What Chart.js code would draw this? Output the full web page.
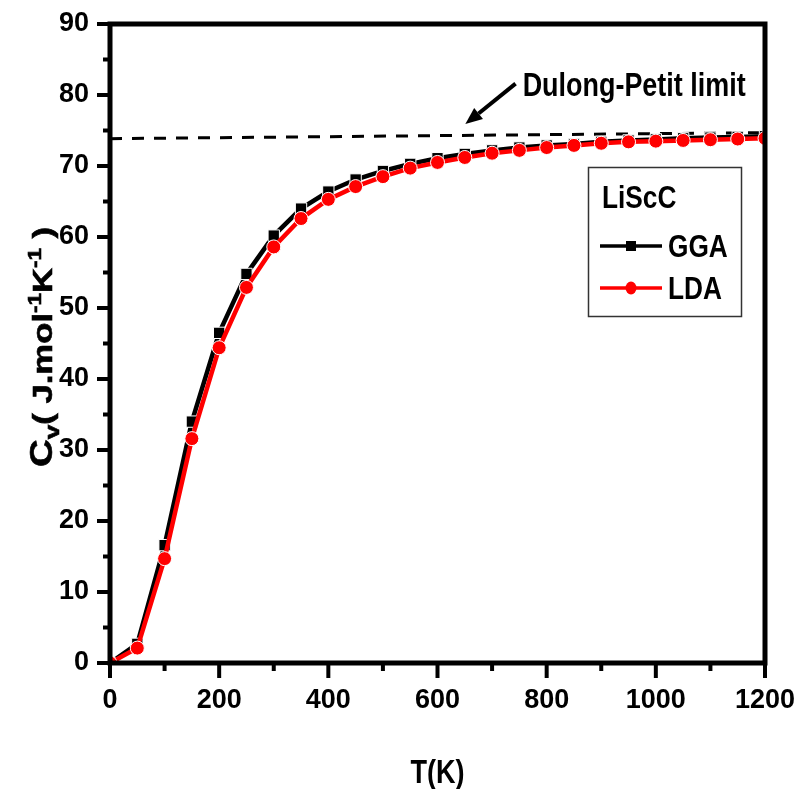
<!DOCTYPE html>
<html><head><meta charset="utf-8">
<script src="https://cdn.jsdelivr.net/npm/chart.js@4"></script>
<style>html,body{margin:0;padding:0;background:#fff}#wrap{width:798px;height:789px;position:relative}</style>
</head><body><div id="wrap"><canvas id="c"></canvas></div>
<script>
// ---- data ----
const temperatures = [0,50,100,150,200,250,300,350,400,450,500,550,600,650,700,750,800,850,900,950,1000,1050,1100,1150,1200];
const cvGGA = [0,2.7,16.6,34.0,46.5,54.8,60.2,64.0,66.4,68.1,69.3,70.3,71.1,71.7,72.2,72.6,72.9,73.1,73.4,73.6,73.75,73.9,74.0,74.1,74.2];
const cvLDA = [0,2.1,14.7,31.6,44.4,52.9,58.6,62.6,65.3,67.1,68.5,69.7,70.5,71.2,71.8,72.2,72.6,72.9,73.2,73.4,73.5,73.6,73.7,73.8,73.9];
const dulongT = [0,1200];
const dulongCv = [73.85,74.7];
const xTickValues = [0,200,400,600,800,1000,1200];
const yTickValues = [0,10,20,30,40,50,60,70,80,90];
const seriesNames = ['GGA','LDA'];
const legendTitle = 'LiScC';
const annotationText = 'Dulong-Petit limit';
const xTitle = 'T(K)';

// detect narrow font
function hasFont(f){const c=document.createElement('canvas').getContext('2d');c.font='bold 40px monospace';const a=c.measureText('Dulong 1200').width;c.font='bold 40px "'+f+'", monospace';return c.measureText('Dulong 1200').width!==a;}
const NARROW_OK = hasFont('Liberation Sans Narrow');
const TICK_FONT = NARROW_OK ? {family:'"Liberation Sans Narrow"',size:35,weight:'bold'} : {family:'"Liberation Sans"',size:27,weight:'bold'};

function toXY(xs, ys){return xs.map((x,i)=>({x:x,y:ys[i]}));}

function txt(ctx,s,x,y,size,align,sx){
  ctx.save();ctx.font='bold '+size+'px "Liberation Sans", Arial, sans-serif';
  ctx.translate(x,y);ctx.scale(sx||0.82,1);ctx.textAlign=align||'left';ctx.textBaseline='alphabetic';ctx.fillStyle='#000';
  ctx.fillText(s,0,0);ctx.restore();
}
function noPad(s){s.paddingLeft=0;s.paddingRight=0;s.paddingTop=0;s.paddingBottom=0;}

const decor = {
  id:'decor',
  afterDatasetsDraw(chart){
    const ctx=chart.ctx, a=chart.chartArea, xs=chart.scales.x, ys=chart.scales.y;
    ctx.save();
    ctx.strokeStyle='#000';ctx.lineWidth=5;ctx.lineCap='butt';
    ctx.strokeRect(a.left,a.top,a.right-a.left,a.bottom-a.top);
    ctx.lineWidth=4;
    for(let v=0; v<=1200; v+=100){
      const p=xs.getPixelForValue(v), L=(v%200===0)?15:8;
      ctx.beginPath();ctx.moveTo(p,a.bottom);ctx.lineTo(p,a.bottom+L);ctx.stroke();
    }
    for(let v=0; v<=90; v+=5){
      const p=ys.getPixelForValue(v), L=(v%10===0)?13:7;
      ctx.beginPath();ctx.moveTo(a.left,p);ctx.lineTo(a.left-L,p);ctx.stroke();
    }
    ctx.restore();
  },
  afterDraw(chart){
    const ctx=chart.ctx, a=chart.chartArea, xs=chart.scales.x, ys=chart.scales.y;
    ctx.save();
    txt(ctx,xTitle,(a.left+a.right)/2,783,33,'center');
    const parts=[['C',31,0],['v',21,7],['( J.mol',28,0],['-1',18,-11],['K',28,0],['-1',18,-11],[' )',28,0]];
    let total=0;
    parts.forEach(p=>{ctx.font='bold '+p[1]+'px "Liberation Sans", Arial';p.w=ctx.measureText(p[0]).width;total+=p.w;});
    const L=240, sc=L/total, cy=347;
    ctx.translate(52,cy+L/2);ctx.rotate(-Math.PI/2);ctx.scale(sc,1);
    ctx.fillStyle='#000';ctx.strokeStyle='#000';ctx.lineWidth=0.6;ctx.textBaseline='alphabetic';ctx.textAlign='left';
    let xx=0;
    parts.forEach(p=>{ctx.font='bold '+p[1]+'px "Liberation Sans", Arial';ctx.fillText(p[0],xx,p[2]);ctx.strokeText(p[0],xx,p[2]);xx+=p.w;});
    ctx.restore();
    const ann=chart.options.plugins.decor;
    const x0=xs.getPixelForValue(ann.arrowFrom[0]), y0=ys.getPixelForValue(ann.arrowFrom[1]);
    const x1=xs.getPixelForValue(ann.arrowTo[0]), y1=ys.getPixelForValue(ann.arrowTo[1]);
    const ang=Math.atan2(y1-y0,x1-x0), hl=17, hw=7;
    ctx.save();ctx.strokeStyle='#000';ctx.fillStyle='#000';ctx.lineWidth=4;
    const bx=x1-hl*Math.cos(ang), by=y1-hl*Math.sin(ang);
    ctx.beginPath();ctx.moveTo(x0,y0);ctx.lineTo(bx,by);ctx.stroke();
    ctx.beginPath();ctx.moveTo(x1,y1);
    ctx.lineTo(bx+hw*Math.sin(ang),by-hw*Math.cos(ang));
    ctx.lineTo(bx-hw*Math.sin(ang),by+hw*Math.cos(ang));ctx.closePath();ctx.fill();
    ctx.restore();
    ctx.save();ctx.font='bold 34px "Liberation Sans", Arial';
    const tw=ctx.measureText(annotationText).width;ctx.restore();
    txt(ctx,annotationText,xs.getPixelForValue(ann.labelAt[0]),ys.getPixelForValue(ann.labelAt[1])+12,34,'left',223/tw);
    ctx.save();ctx.strokeStyle='#333';ctx.lineWidth=1.5;ctx.strokeRect(588.5,167.5,153,149);ctx.restore();
    txt(ctx,legendTitle,602,208,32,'left');
    const ds=chart.data.datasets;
    [[0,246,257],[1,288,299]].forEach(([i,ly,bl])=>{
      const d=ds.find(q=>q.label===seriesNames[i]);
      ctx.save();ctx.strokeStyle=d.borderColor;ctx.lineWidth=3.5;
      ctx.beginPath();ctx.moveTo(600,ly);ctx.lineTo(662,ly);ctx.stroke();
      ctx.fillStyle=d.pointBackgroundColor;
      if(d.pointStyle==='rect'){ctx.fillRect(626,ly-5,10,10);} else {ctx.beginPath();ctx.ellipse(631,ly,5.5,6.5,0,0,Math.PI*2);ctx.fill();}
      ctx.restore();
      txt(ctx,seriesNames[i],668,bl,32,'left');
    });
  }
};

new Chart(document.getElementById('c'),{
  type:'line',
  data:{datasets:[
    {label:seriesNames[1],data:toXY(temperatures,cvLDA),borderColor:'#ff0000',backgroundColor:'#ff0000',borderWidth:4.5,
     pointStyle:'circle',pointRadius:7,pointBackgroundColor:'#ff0000',pointBorderColor:'#ffffff',pointBorderWidth:1,order:0,clip:0,tension:0},
    {label:seriesNames[0],data:toXY(temperatures,cvGGA),borderColor:'#000000',backgroundColor:'#000000',borderWidth:4.5,
     pointStyle:'rect',pointRadius:8,pointBackgroundColor:'#000000',pointBorderColor:'#ffffff',pointBorderWidth:1,order:1,clip:0,tension:0},
    {label:'Dulong-Petit',data:toXY(dulongT,dulongCv),borderColor:'#000000',borderWidth:3,borderDash:[12,10],
     pointRadius:0,order:2,clip:0}
  ]},
  options:{
    responsive:true,maintainAspectRatio:false,animation:false,
    layout:{padding:{left:0,top:24,right:33,bottom:0}},
    plugins:{legend:{display:false},tooltip:{enabled:false},
      decor:{arrowFrom:[743,81.6],arrowTo:[651,75.9],labelAt:[756,81.6]}},
    scales:{
      x:{type:'linear',min:0,max:1200,
        afterFit(s){s.height=126;noPad(s);},
        afterBuildTicks(s){s.ticks=xTickValues.map(v=>({value:v}));},
        grid:{display:false,drawTicks:false},border:{display:false},
        ticks:{padding:21,color:'#000',font:TICK_FONT,maxRotation:0,autoSkip:false,callback:v=>String(v)}},
      y:{type:'linear',min:0,max:90,
        afterFit(s){s.width=110;noPad(s);},
        afterBuildTicks(s){s.ticks=yTickValues.map(v=>({value:v}));},
        grid:{display:false,drawTicks:false},border:{display:false},
        ticks:{padding:21,color:'#000',font:TICK_FONT,autoSkip:false,callback:v=>String(v)}}
    }
  },
  plugins:[decor]
});
</script></body></html>
